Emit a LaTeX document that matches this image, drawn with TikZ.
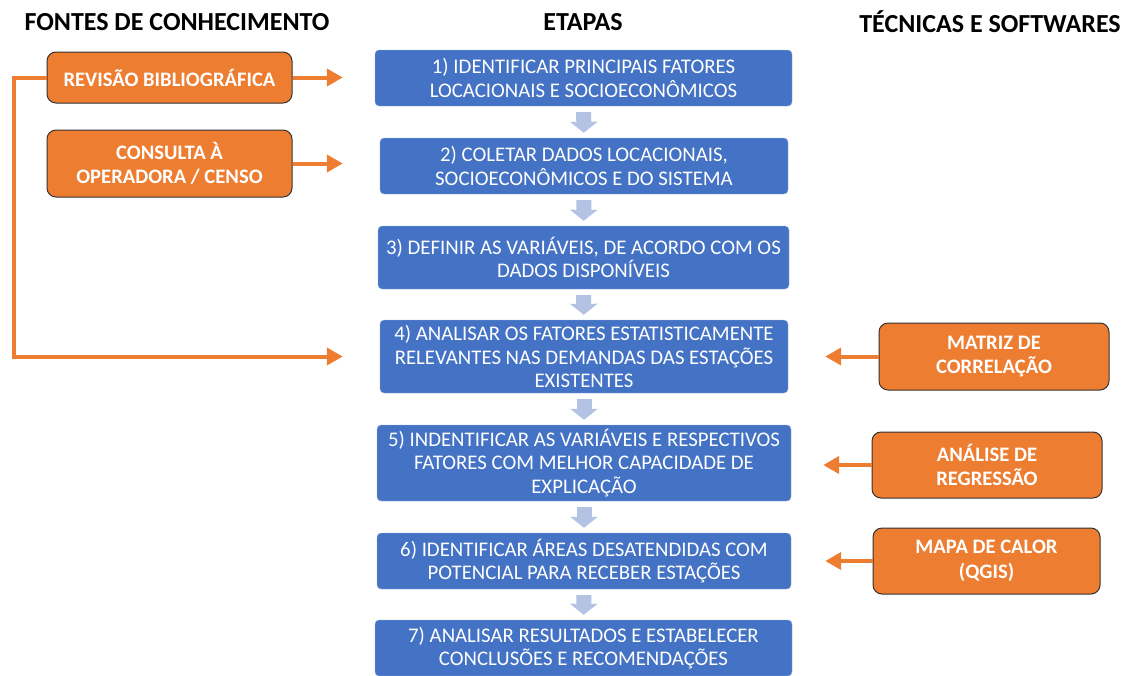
\documentclass[tikz,border=0pt]{standalone}
\usepackage{fontspec}
\setmainfont{Carlito}
\usetikzlibrary{positioning,arrows.meta}
\definecolor{stepblue}{HTML}{4472C4}
\definecolor{srcorange}{HTML}{ED7D31}
\definecolor{flowblue}{HTML}{B4C2E4}

\begin{document}
\begin{tikzpicture}[%
		x=1pt, y=-1pt,
		etapa/.style={%
			fill=stepblue,
			draw=stepblue!55!white,
			rounded corners=4pt,
			text=white,
			align=center,
			inner sep=2pt,
			minimum width=412pt,
			minimum height=56pt,
			font=\fontsize{20.8}{23.5}\selectfont
		},
		fonte/.style={%
			fill=srcorange,
			draw=black!80,
			line width=1pt,
			rounded corners=9pt,
			text=white,
			align=center,
			minimum width=245pt,
			minimum height=51pt,
			font=\bfseries\fontsize{20.6}{24.5}\selectfont
		},
		titulo/.style={font=\bfseries\fontsize{26}{30}\selectfont},
		fluxo/.style={draw=flowblue, line width=15pt, -{Triangle[length=11pt,width=27pt]}, shorten <=6pt, shorten >=5pt},
		seta/.style={draw=srcorange, line width=4pt, -{Triangle[length=16pt,width=17pt]}}
		]
		\useasboundingbox (0,0) rectangle (1127,675);
		
		% titulos das colunas
		\node[titulo] (tfontes) at (177,22)                            {FONTES DE CONHECIMENTO};
		\node[titulo] (tetapas) at (583,22)                            {ETAPAS};
		\node[titulo] (ttecn) at (990,22)                              {TÉCNICAS E SOFTWARES};
		
		% etapas
		\node[etapa, minimum width=417pt] (1) at (583.5,78)            {1) IDENTIFICAR PRINCIPAIS FATORES\\LOCACIONAIS E SOCIOECONÔMICOS};
		\node[etapa, minimum width=408pt] (2) at (584,166)             {2) COLETAR DADOS LOCACIONAIS,\\SOCIOECONÔMICOS E DO SISTEMA};
		\node[etapa, minimum width=411pt, minimum height=63pt] (3) at (583.5,257.5) {3) DEFINIR AS VARIÁVEIS, DE ACORDO COM OS\\DADOS DISPONÍVEIS};
		\node[etapa, minimum width=408pt, minimum height=73pt] (4) at (584,356.5)   {4) ANALISAR OS FATORES ESTATISTICAMENTE\\RELEVANTES NAS DEMANDAS DAS ESTAÇÕES\\EXISTENTES};
		\node[etapa, minimum width=414pt, minimum height=76pt] (5) at (584,463)     {5) INDENTIFICAR AS VARIÁVEIS E RESPECTIVOS\\FATORES COM MELHOR CAPACIDADE DE\\EXPLICAÇÃO};
		\node[etapa, minimum width=414pt] (6) at (584,561)             {6) IDENTIFICAR ÁREAS DESATENDIDAS COM\\POTENCIAL PARA RECEBER ESTAÇÕES};
		\node[etapa, minimum width=417pt] (7) at (583.5,648)           {7) ANALISAR RESULTADOS E ESTABELECER\\CONCLUSÕES E RECOMENDAÇÕES};
		
		% fontes de conhecimento
		\node[fonte] (rev) at (169.5,77.5)                             {REVISÃO BIBLIOGRÁFICA};
		\node[fonte, minimum height=67pt] (cons) at (169.5,163.5)      {CONSULTA À\\OPERADORA / CENSO};
		
		% tecnicas e softwares
		\node[fonte, minimum width=230pt, minimum height=67pt] (mat) at (994,356.5)  {MATRIZ DE\\CORRELAÇÃO};
		\node[fonte, minimum width=230pt, minimum height=66pt] (reg) at (987,465)    {ANÁLISE DE\\REGRESSÃO};
		\node[fonte, minimum width=227pt, minimum height=66pt] (calor) at (986.5,561) {MAPA DE CALOR\\(QGIS)};
		
		\foreach \a/\b in {1/2,2/3,3/4,4/5,5/6,6/7}
		\draw[fluxo] (\a) -- (\b);
		
		\draw[seta, shorten >=32pt] (rev.east) -- (rev.east -| 1.west);
		\draw[seta, shorten >=37pt] (cons.east) -- (cons.east -| 2.west);
		\draw[seta, shorten >=37pt] (rev.west) -- ++(-33,0) |- (4.west);
		\draw[seta, shorten >=37pt] (mat.west) -- (mat.west -| 4.east);
		\draw[seta, shorten >=32pt] (reg.west) -- (reg.west -| 5.east);
		\draw[seta, shorten >=34pt] (calor.west) -- (calor.west -| 6.east);
		\end{tikzpicture}
\end{document}
